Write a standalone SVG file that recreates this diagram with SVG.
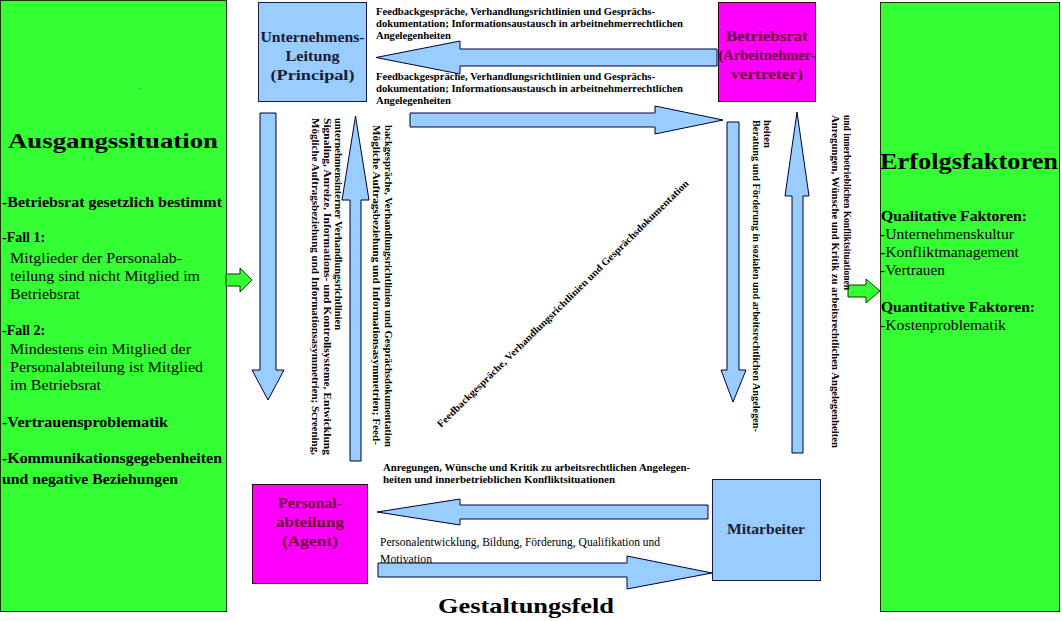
<svg xmlns="http://www.w3.org/2000/svg" width="1062" height="621" viewBox="0 0 1062 621">
<style>
text{font-family:"Liberation Serif","Times New Roman",serif;fill:#000}
.b{font-weight:bold}
.side{fill:#33ff33;stroke:#1a3300;stroke-width:1}
.blue{fill:#99ccff;stroke:#1a1a40;stroke-width:1}
.mag{fill:#ff00ff;stroke:#33001a;stroke-width:1}
.arr{fill:#99ccff;stroke:#000033;stroke-width:1}
.garr{fill:#33ff33;stroke:#1a3300;stroke-width:1}
.lt{font-size:14px}
.rt{font-size:14.5px}
.sm{font-size:10px;font-weight:bold}
.vt{font-size:11px;font-weight:bold}
.bx{font-size:14px;font-weight:bold;fill:#1a1a33}
.mx{font-size:14px;font-weight:bold;fill:#6a0035}
</style>
<rect width="1062" height="621" fill="#ffffff"/>

<g id="ausgangssituation">
<rect class="side" x="0.5" y="0.5" width="226" height="611"/>
<text x="139" y="89" font-size="6">.</text>
<text class="b" x="8" y="148" font-size="22" textLength="210" lengthAdjust="spacingAndGlyphs">Ausgangssituation</text>
<text class="b lt" x="2" y="207" textLength="220" lengthAdjust="spacingAndGlyphs">-Betriebsrat gesetzlich bestimmt</text>
<text class="b lt" x="2" y="242">-Fall 1:</text>
<text class="lt" x="10" y="263" textLength="172" lengthAdjust="spacingAndGlyphs">Mitglieder der Personalab-</text>
<text class="lt" x="10" y="281" textLength="190" lengthAdjust="spacingAndGlyphs">teilung sind nicht Mitglied im</text>
<text class="lt" x="10" y="299" textLength="70" lengthAdjust="spacingAndGlyphs">Betriebsrat</text>
<text class="b lt" x="2" y="335">-Fall 2:</text>
<text class="lt" x="10" y="354" textLength="181" lengthAdjust="spacingAndGlyphs">Mindestens ein Mitglied der</text>
<text class="lt" x="10" y="372" textLength="193" lengthAdjust="spacingAndGlyphs">Personalabteilung ist Mitglied</text>
<text class="lt" x="10" y="390" textLength="91" lengthAdjust="spacingAndGlyphs">im Betriebsrat</text>
<text class="b lt" x="2" y="427" textLength="166" lengthAdjust="spacingAndGlyphs">-Vertrauensproblematik</text>
<text class="b lt" x="2" y="463" textLength="220" lengthAdjust="spacingAndGlyphs">-Kommunikationsgegebenheiten</text>
<text class="b lt" x="2" y="484" textLength="176" lengthAdjust="spacingAndGlyphs">und negative Beziehungen</text>
</g>

<g id="erfolgsfaktoren">
<rect class="side" x="880.5" y="2.5" width="179" height="609"/>
<text class="b" x="880" y="169" font-size="24" textLength="178" lengthAdjust="spacingAndGlyphs">Erfolgsfaktoren</text>
<text class="b rt" x="881" y="221" textLength="146" lengthAdjust="spacingAndGlyphs">Qualitative Faktoren:</text>
<text class="rt" x="880" y="239" textLength="134" lengthAdjust="spacingAndGlyphs">-Unternehmenskultur</text>
<text class="rt" x="880" y="257" textLength="139" lengthAdjust="spacingAndGlyphs">-Konfliktmanagement</text>
<text class="rt" x="880" y="275" textLength="65" lengthAdjust="spacingAndGlyphs">-Vertrauen</text>
<text class="b rt" x="881" y="312" textLength="154" lengthAdjust="spacingAndGlyphs">Quantitative Faktoren:</text>
<text class="rt" x="880" y="330" textLength="126" lengthAdjust="spacingAndGlyphs">-Kostenproblematik</text>
</g>

<g id="unternehmensleitung">
<rect class="blue" x="258.5" y="2.5" width="108" height="99"/>
<text class="bx" x="312.5" y="42" text-anchor="middle" textLength="104" lengthAdjust="spacingAndGlyphs">Unternehmens-</text>
<text class="bx" x="312.5" y="61" text-anchor="middle" textLength="54" lengthAdjust="spacingAndGlyphs">Leitung</text>
<text class="bx" x="312.5" y="80" text-anchor="middle" textLength="84" lengthAdjust="spacingAndGlyphs">(Principal)</text>
</g>

<g id="betriebsrat">
<rect class="mag" x="718.5" y="2.5" width="97" height="99"/>
<text class="mx" x="767" y="41" text-anchor="middle" textLength="82" lengthAdjust="spacingAndGlyphs">Betriebsrat</text>
<text class="mx" x="767" y="60" text-anchor="middle" textLength="97" lengthAdjust="spacingAndGlyphs">(Arbeitnehmer-</text>
<text class="mx" x="767" y="79" text-anchor="middle" textLength="72" lengthAdjust="spacingAndGlyphs">vertreter)</text>
</g>

<g id="personalabteilung">
<rect class="mag" x="252.5" y="484.5" width="115" height="99"/>
<text class="mx" x="310" y="508" text-anchor="middle" textLength="64" lengthAdjust="spacingAndGlyphs">Personal-</text>
<text class="mx" x="310" y="527" text-anchor="middle" textLength="68" lengthAdjust="spacingAndGlyphs">abteilung</text>
<text class="mx" x="310" y="546" text-anchor="middle" textLength="56" lengthAdjust="spacingAndGlyphs">(Agent)</text>
</g>

<g id="mitarbeiter">
<rect class="blue" x="712.5" y="479.5" width="108" height="101"/>
<text class="bx" x="766" y="534" text-anchor="middle" font-size="13" textLength="78" lengthAdjust="spacingAndGlyphs">Mitarbeiter</text>
</g>

<g id="gestaltungsfeld">
<text class="b" x="438" y="613" font-size="21" textLength="176" lengthAdjust="spacingAndGlyphs">Gestaltungsfeld</text>
</g>

<g id="connectors">
<path class="garr" d="M226,274 L240,274 L240,268 L252,280 L240,292 L240,286 L226,286 Z"/>
<path class="garr" d="M848,285 L866,285 L866,279 L880,291 L866,303 L866,297 L848,297 Z"/>
<path class="arr" d="M717,49 L460,49 L460,41 L376,57.5 L460,74 L460,66 L717,66 Z"/>
<path class="arr" d="M410,113 L655,113 L655,106 L723,120 L655,134 L655,127 L410,127 Z"/>
<path class="arr" d="M260,113 L276,113 L276,370 L284,370 L268,400 L252,370 L260,370 Z"/>
<path class="arr" d="M350,461 L350,200 L342,200 L355.5,116 L369,200 L361,200 L361,461 Z"/>
<path class="arr" d="M727,122 L739,122 L739,370 L746,370 L733,402 L721,370 L727,370 Z"/>
<path class="arr" d="M792,453 L792,196 L785,196 L797,112 L809,196 L803,196 L803,453 Z"/>
<path class="arr" d="M708,505 L460,505 L460,499 L377,512 L460,525 L460,519 L708,519 Z"/>
<path class="arr" d="M378,563 L627,563 L627,556 L712,573 L627,589 L627,577 L378,577 Z"/>
</g>

<g id="labels">
<text class="sm" x="376" y="15" textLength="279" lengthAdjust="spacingAndGlyphs">Feedbackgespräche, Verhandlungsrichtlinien und Gesprächs-</text>
<text class="sm" x="376" y="27" textLength="307" lengthAdjust="spacingAndGlyphs">dokumentation; Informationsaustausch in arbeitnehmerrechtlichen</text>
<text class="sm" x="376" y="39" textLength="75" lengthAdjust="spacingAndGlyphs">Angelegenheiten</text>
<text class="sm" x="376" y="80" textLength="279" lengthAdjust="spacingAndGlyphs">Feedbackgespräche, Verhandlungsrichtlinien und Gesprächs-</text>
<text class="sm" x="376" y="92" textLength="307" lengthAdjust="spacingAndGlyphs">dokumentation; Informationsaustausch in arbeitnehmerrechtlichen</text>
<text class="sm" x="376" y="104" textLength="75" lengthAdjust="spacingAndGlyphs">Angelegenheiten</text>

<text class="sm" x="383" y="471" textLength="307" lengthAdjust="spacingAndGlyphs">Anregungen, Wünsche und Kritik zu arbeitsrechtlichen Angelegen-</text>
<text class="sm" x="383" y="483" textLength="232" lengthAdjust="spacingAndGlyphs">heiten und innerbetrieblichen Konfliktsituationen</text>
<text x="380" y="546" font-size="12" textLength="280" lengthAdjust="spacingAndGlyphs">Personalentwicklung, Bildung, Förderung, Qualifikation und</text>
<text x="380" y="563" font-size="12" textLength="52" lengthAdjust="spacingAndGlyphs">Motivation</text>

<text class="vt" transform="translate(312,118) rotate(90)" textLength="337" lengthAdjust="spacingAndGlyphs">Mögliche Auftragsbeziehung und Informationsasymmetrien; Screening,</text>
<text class="vt" transform="translate(323.5,118) rotate(90)" textLength="337" lengthAdjust="spacingAndGlyphs">Signaling, Anreize, Informations- und Kontrollsysteme, Entwicklung</text>
<text class="vt" transform="translate(335,118) rotate(90)" textLength="212" lengthAdjust="spacingAndGlyphs">unternehmensinterner Verhandlungsrichtlinien</text>

<text class="vt" transform="translate(373,125) rotate(90)" textLength="320" lengthAdjust="spacingAndGlyphs">Mögliche Auftragsbeziehung und Informationsasymmetrien; Feed-</text>
<text class="vt" transform="translate(384.5,125) rotate(90)" textLength="322" lengthAdjust="spacingAndGlyphs">backgespräche, Verhandlungsrichtlinien und Gesprächsdokumentation</text>

<text class="vt" transform="translate(753,120) rotate(90)" textLength="312" lengthAdjust="spacingAndGlyphs">Beratung und Förderung in sozialen und arbeitsrechtlichen Angelegen-</text>
<text class="vt" transform="translate(764,120) rotate(90)" textLength="28" lengthAdjust="spacingAndGlyphs">heiten</text>

<text class="vt" transform="translate(832,115) rotate(90)" textLength="333" lengthAdjust="spacingAndGlyphs">Anregungen, Wünsche und Kritik zu arbeitsrechtlichen Angelegenheiten</text>
<text class="vt" transform="translate(844,115) rotate(90)" textLength="175" lengthAdjust="spacingAndGlyphs">und innerbetrieblichen Konfliktsituationen</text>

<text class="sm" transform="translate(441,428) rotate(-44.5)" textLength="348" lengthAdjust="spacingAndGlyphs">Feedbackgespräche, Verhandlungsrichtlinien und Gesprächsdokumentation</text>
</g>
</svg>
